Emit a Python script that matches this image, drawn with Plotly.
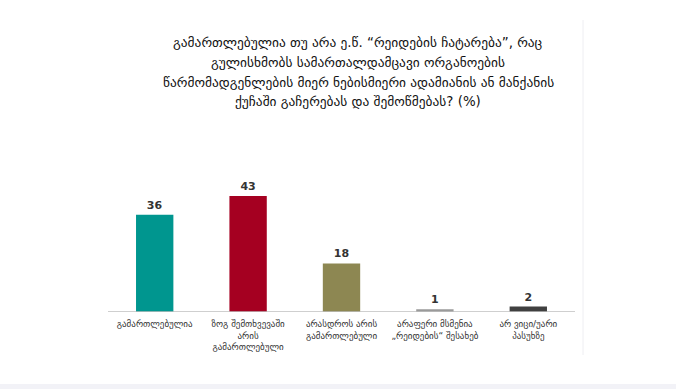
import plotly.graph_objects as go

categories = [
    "გამართლებულია",
    "ზოგ შემთხვევაში<br>არის<br>გამართლებული",
    "არასდროს არის<br>გამართლებული",
    "არაფერი მსმენია<br>„რეიდების“ შესახებ",
    "არ ვიცი/უარი<br>პასუხზე",
]
values = [36, 43, 18, 1, 2]
colors = ["#00968F", "#A50021", "#8D8752", "#9A9A9A", "#404040"]

title_lines = [
    "გამართლებულია თუ არა ე.წ. “რეიდების ჩატარება”, რაც",
    "გულისხმობს სამართალდამცავი ორგანოების",
    "წარმომადგენლების მიერ ნებისმიერი ადამიანის ან მანქანის",
    "ქუჩაში გაჩერებას და შემოწმებას? (%)",
]

fig = go.Figure(
    go.Bar(
        x=list(range(len(categories))),
        y=values,
        marker=dict(color=colors, line=dict(width=0)),
        text=[str(v) for v in values],
        textposition="outside",
        textfont=dict(family="DejaVu Sans", size=11, color="#333333", weight="bold"),
        cliponaxis=False,
        hoverinfo="skip",
    )
)

W, H = 676, 389
L, R, T, B = 108, 101, 130, 77
PW, PH = W - L - R, H - T - B

def px_x(x):
    return (x - L) / PW

def px_y(y):
    return (H - B - y) / PH

annotations = []
for i, line in enumerate(title_lines):
    annotations.append(dict(
        text=line, xref="paper", yref="paper",
        x=px_x(358), y=px_y(43 + i * 19.6),
        xanchor="center", yanchor="middle", showarrow=False,
        font=dict(family="DejaVu Sans", size=13.4, color="#111111"),
    ))

fig.update_layout(
    width=W,
    height=H,
    margin=dict(l=L, r=R, t=T, b=B, autoexpand=False),
    paper_bgcolor="white",
    plot_bgcolor="white",
    bargap=0.6,
    showlegend=False,
    annotations=annotations,
    xaxis=dict(
        tickmode="array",
        tickvals=list(range(len(categories))),
        ticktext=categories,
        tickfont=dict(family="DejaVu Sans", size=9, color="#333333"),
        ticklabelstandoff=5,
        showgrid=False,
        zeroline=False,
        showline=False,
        ticks="",
        automargin=False,
        range=[-0.5, 4.5],
    ),
    yaxis=dict(
        range=[0, (312 - T) / 2.7],
        visible=False,
        showgrid=False,
        zeroline=False,
        automargin=False,
    ),
    shapes=[
        dict(type="line", xref="paper", yref="y", x0=0, x1=1, y0=0, y1=0,
             line=dict(color="#BFBFBF", width=1.5)),
        dict(type="line", xref="paper", yref="paper", x0=px_x(583), x1=px_x(583),
             y0=px_y(355), y1=px_y(20),
             line=dict(color="#EEEEF2", width=1)),
        dict(type="rect", xref="paper", yref="paper", x0=px_x(0), x1=px_x(W),
             y0=px_y(H), y1=px_y(H - 5),
             fillcolor="#F2F2F7", line=dict(width=0)),
    ],
)

fig.write_html("out.html", config={"displayModeBar": False},
               post_script="document.body.style.margin='0';")
